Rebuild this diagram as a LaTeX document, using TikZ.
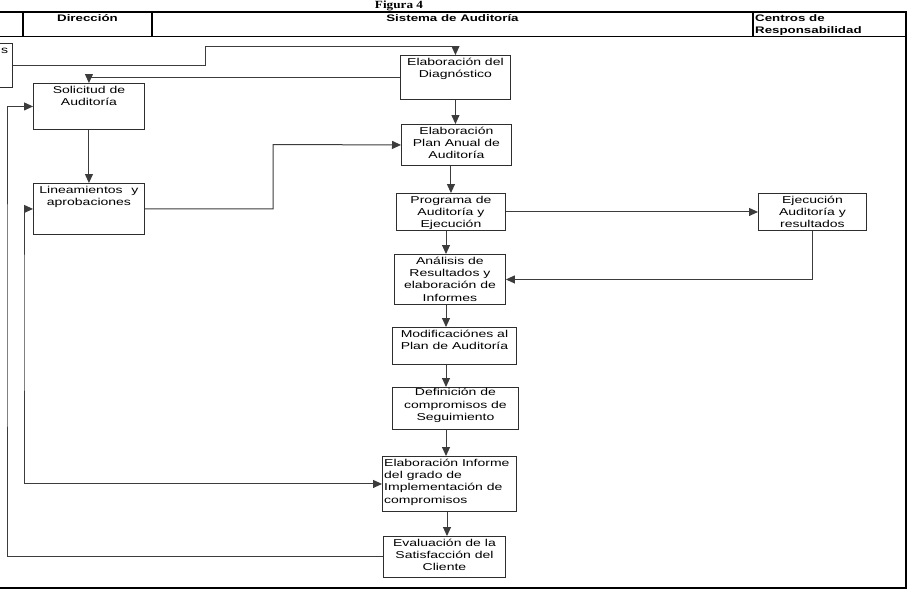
\documentclass[tikz,border=0pt]{standalone}
\usepackage{fontspec}
\setmainfont{Liberation Sans}[FakeStretch=1.4]
\newfontfamily\titlefont{Liberation Serif}[FakeStretch=1.2]
\usetikzlibrary{arrows.meta}
\definecolor{boxc}{HTML}{2E2E2E}
\definecolor{connc}{HTML}{3C3C3C}
\newcommand\myTS{\rule{0pt}{9.5pt}}
\tikzset{
  box/.style={draw=boxc, line width=0.9pt, inner sep=0pt, anchor=north west},
  txt/.style={font=\fontsize{10}{12.3}\selectfont, inner sep=0pt, align=center, anchor=north, text=black},
  conn/.style={draw=connc, line width=1pt, -{Triangle[length=9pt,width=8pt]}},
  frame/.style={draw=black, line width=1.6pt},
  hdr/.style={font=\bfseries\fontsize{9.5}{12}\selectfont, inner sep=0pt, anchor=base}
}
\begin{document}
\begin{tikzpicture}[x=1pt,y=-1pt]
\useasboundingbox (0,0) rectangle (909,590);
\clip (0,0) rectangle (909,590);
\fill[white] (0,0) rectangle (909,590);

% title
\node[font=\titlefont\bfseries\fontsize{11}{13}\selectfont, inner sep=0pt, anchor=base] (title) at (399,8.5) {Figura 4};

% frame and header
\draw[frame, line width=1.3pt] (0,12) -- (907,12);
\draw[frame] (0,36.5) -- (907,36.5);
\draw[frame] (23,12) -- (23,37);
\draw[frame] (152,12) -- (152,37);
\draw[frame] (753,12) -- (753,37);
\draw[frame, line width=2.2pt] (906,12) -- (906,588) -- (0,588);

\node[hdr] (hDir) at (87.5,21) {Dirección};
\node[hdr] (hSis) at (452.5,21) {Sistema de Auditoría};
\node[hdr, anchor=base west] (hC1) at (755,21) {Centros de};
\node[hdr, anchor=base west] (hC2) at (755,33) {Responsabilidad};

% boxes
\node[box, minimum width=40pt, minimum height=44pt] (lb) at (-28,43) {};
\node[txt, anchor=base west] (lbT) at (1,53) {s};

\node[box, minimum width=111pt, minimum height=46pt] (sol) at (33,83) {};
\node[txt] (solT) at ([yshift=-0.5pt]sol.north) {\myTS Solicitud de\\Auditoría};

\node[box, minimum width=111pt, minimum height=51pt] (lin) at (33,183) {};
\node[txt] (linT) at ([yshift=-0.5pt]lin.north) {\myTS\makebox[99pt]{Lineamientos\hfill y}\\aprobaciones};

\node[box, minimum width=110pt, minimum height=44pt] (diag) at (400,55) {};
\node[txt] (diagT) at ([yshift=-0.5pt]diag.north) {\myTS Elaboración del\\Diagnóstico};

\node[box, minimum width=110pt, minimum height=41pt] (plan) at (401,124) {};
\node[txt] (planT) at ([yshift=-0.5pt]plan.north) {\myTS Elaboración\\Plan Anual de\\Auditoría};

\node[box, minimum width=109pt, minimum height=37pt] (prog) at (396,193) {};
\node[txt] (progT) at ([yshift=-0.5pt]prog.north) {\myTS Programa de\\Auditoría y\\Ejecución};

\node[box, minimum width=108pt, minimum height=37pt] (ejec) at (758,193) {};
\node[txt] (ejecT) at ([yshift=-0.5pt]ejec.north) {\myTS Ejecución\\Auditoría y\\resultados};

\node[box, minimum width=111pt, minimum height=50pt] (anal) at (394,254) {};
\node[txt] (analT) at ([yshift=-0.5pt]anal.north) {\myTS Análisis de\\Resultados y\\elaboración de\\Informes};

\node[box, minimum width=124pt, minimum height=37pt] (modif) at (392,327) {};
\node[txt] (modifT) at ([yshift=-0.5pt]modif.north) {\myTS Modificaciónes al\\Plan de Auditoría};

\node[box, minimum width=126pt, minimum height=42pt] (def) at (392,387) {};
\node[txt] (defT) at ([yshift=1pt]def.north) {\myTS Definición de\\compromisos de\\Seguimiento};

\node[box, minimum width=134pt, minimum height=55pt] (inf) at (382,456) {};
\node[txt, align=left, anchor=north west] (infT) at ([xshift=2pt,yshift=-0.5pt]inf.north west) {\myTS Elaboración Informe\\del grado de\\Implementación de\\compromisos};

\node[box, minimum width=122pt, minimum height=41pt] (eval) at (383,536) {};
\node[txt] (evalT) at ([yshift=-0.5pt]eval.north) {\myTS Evaluación de la\\Satisfacción del\\Cliente};

% helper coordinates
\coordinate (c1) at (205,46);
\coordinate (c2) at (273,144.5);
\coordinate (c3) at (7,300);
\coordinate (c4) at (24,300);
\coordinate (col) at (446,0);

% connectors
\draw[conn] (lb.east) -| (c1) -| (diag.north);
\draw[conn] (diag.west) -| (sol.north);
\draw[conn] (diag.south) -- (diag.south |- plan.north);
\draw[conn] (sol.south) -- (lin.north);
\draw[conn] (lin.east) -| (c2) -- (plan.west);
\draw[conn] (prog.north |- plan.south) -- (prog.north);
\draw[conn] (prog.east) -- (ejec.west);
\draw[conn] (col |- prog.south) -- (col |- anal.north);
\draw[conn] (ejec.south) |- (anal.east);
\draw[conn] (col |- anal.south) -- (col |- modif.north);
\draw[conn] (col |- modif.south) -- (col |- def.north);
\draw[conn] (col |- def.south) -- (col |- inf.north);
\draw[conn] ([xshift=1pt]col |- inf.south) -- ([xshift=1pt]col |- eval.north);
\draw[conn] (eval.west) -| (c3) |- (sol.west);
\draw[conn, {Triangle[length=9pt,width=8pt]}-{Triangle[length=9pt,width=8pt]}] (lin.west) -| (c4) |- (inf.west);
\end{tikzpicture}
\end{document}
